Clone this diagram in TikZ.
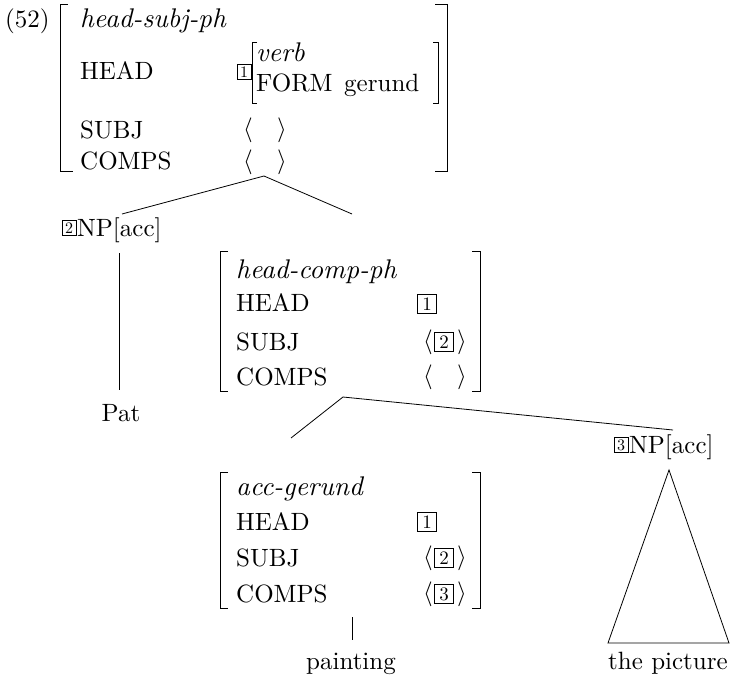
\documentclass[tikz,border=0pt]{standalone}
\usepackage{fontspec}
\setmainfont{lmroman10-regular.otf}[ItalicFont=lmroman10-italic.otf]
\begin{document}
\begin{tikzpicture}[x=1pt,y=-1pt,
  every node/.style={inner sep=0pt, font=\fontsize{25}{29}\selectfont},
  lbl/.style={anchor=base west},
  typ/.style={anchor=base west, font=\fontsize{27}{31}\selectfont\itshape},
  word/.style={anchor=base},
  tagbox/.style={draw, line width=0.7pt, minimum width=14pt, minimum height=15pt, font=\fontsize{16}{16}\selectfont},
  bigtag/.style={draw, line width=0.7pt, minimum width=19pt, minimum height=19pt, font=\fontsize{19}{19}\selectfont},
  brk/.style={line width=1pt},
  edge/.style={line width=0.8pt}]
\useasboundingbox (0,0) rectangle (731,682);

% ---------- top AVM ----------
\node[lbl] (ex) at (5,28) {(52)};
\draw[brk] (68,5) -- (60,5) -- (60,172) -- (73,172);
\draw[brk] (435,5) -- (447,5) -- (447,172) -- (435,172);
\node[typ] (ttype) at (80,28) {head-subj-ph};
\node[lbl] (thead) at (80,80) {HEAD};
\node[lbl] (tsubj) at (80,139) {SUBJ};
\node[lbl] (tcomps) at (80,170) {COMPS};
\node[tagbox] (ttag) at (244,72) {1};
\draw[brk] (257,43) -- (252,43) -- (252,104) -- (257,104);
\draw[brk] (433,43) -- (438,43) -- (438,104) -- (433,104);
\node[typ] (tverb) at (256,62) {verb};
\node[lbl] (tform) at (256,92) {FORM};
\node[lbl] (tger) at (344,92) {gerund};
\node (tsl) at (248,130) {$\langle$};
\node (tsr) at (282,130) {$\rangle$};
\node (tcl) at (248,162) {$\langle$};
\node (tcr) at (282,162) {$\rangle$};
\coordinate (root) at (264,176);

% ---------- left daughter ----------
\coordinate (np2top) at (122,214);
\node[tagbox] (np2tag) at (69,228) {2};
\node[lbl] (np2) at (77,236) {NP[acc]};
\coordinate (np2bot) at (119,253);
\coordinate (pattop) at (119,390);
\node[word] (pat) at (121,421) {Pat};

% ---------- middle AVM ----------
\coordinate (avm2top) at (352,214);
\draw[brk] (228,251) -- (220,251) -- (220,391) -- (228,391);
\draw[brk] (472,251) -- (480,251) -- (480,391) -- (472,391);
\node[typ] (mtype) at (236,278) {head-comp-ph};
\node[lbl] (mhead) at (236,311) {HEAD};
\node[lbl] (msubj) at (236,350) {SUBJ};
\node[lbl] (mcomps) at (236,385) {COMPS};
\node[bigtag] (mtag) at (427,304) {1};
\node (msl) at (428,342) {$\langle$};
\node[bigtag] (mstag) at (444,342) {2};
\node (msr) at (462,342) {$\rangle$};
\node (mcl) at (428,377) {$\langle$};
\node (mcr) at (462,377) {$\rangle$};
\coordinate (mid) at (343,397);

% ---------- bottom AVM ----------
\coordinate (avm3top) at (291,438);
\draw[brk] (228,472) -- (220,472) -- (220,608) -- (228,608);
\draw[brk] (472,472) -- (480,472) -- (480,608) -- (472,608);
\node[typ] (btype) at (236,495) {acc-gerund};
\node[lbl] (bhead) at (236,530) {HEAD};
\node[lbl] (bsubj) at (236,566) {SUBJ};
\node[lbl] (bcomps) at (236,602) {COMPS};
\node[bigtag] (btag) at (427,522) {1};
\node (bsl) at (428,558) {$\langle$};
\node[bigtag] (bstag) at (444,558) {2};
\node (bsr) at (462,558) {$\rangle$};
\node (bcl) at (428,594) {$\langle$};
\node[bigtag] (bctag) at (444,594) {3};
\node (bcr) at (462,594) {$\rangle$};
\coordinate (bbot) at (352,617);
\coordinate (painttop) at (352,640);
\node[word] (paint) at (351,669) {painting};

% ---------- right NP ----------
\coordinate (np3top) at (673,430);
\node[tagbox] (np3tag) at (621,445) {3};
\node[lbl] (np3) at (629,453) {NP[acc]};
\coordinate (apex) at (669,470);
\coordinate (bl) at (608,643);
\coordinate (br) at (729,643);
\node[word] (pic) at (668,669) {the picture};

% ---------- connectors ----------
\draw[edge] (root) -- (np2top);
\draw[edge] (root) -- (avm2top);
\draw[edge] (np2bot) -- (pattop);
\draw[edge] (mid) -- (avm3top);
\draw[edge] (mid) -- (np3top);
\draw[edge] (bbot) -- (painttop);
\draw[edge] (apex) -- (bl) -- (br) -- cycle;
\end{tikzpicture}
\end{document}
